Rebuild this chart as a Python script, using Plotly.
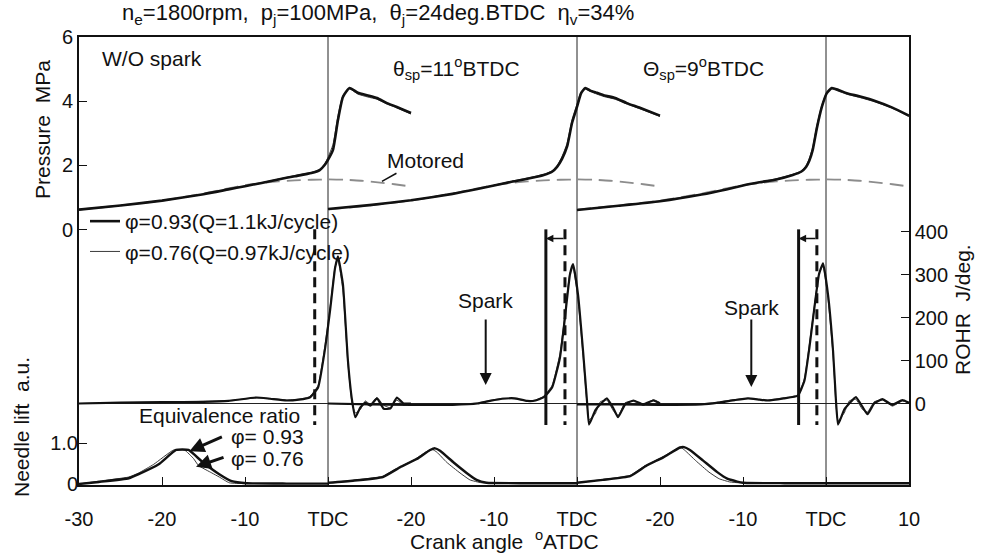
import plotly.graph_objects as go

# ---------------- axis layout (shared crank-angle axis, three panels side by side) -------------
PANEL_TDC = [30, 60, 90]          # where each panel's TDC sits on the shared axis
X_TICK_POS = [0, 10, 20, 30, 40, 50, 60, 70, 80, 90, 100]
X_TICK_TEXT = ['-30', '-20', '-10', 'TDC', '-20', '-10', 'TDC', '-20', '-10', 'TDC', '10']
P_TICKS = [0, 2, 4, 6]
R_TICKS = [0, 100, 200, 300, 400]
N_TICKS = [0, 1.0]
N_TICK_TEXT = ['0', '1.0']

# ---------------- cylinder pressure, MPa (crank angle deg ATDC) ----------------
ca_motored = [-30, -25, -20, -15, -12, -10, -8, -6, -4, -2, 0, 2, 4, 6, 8, 10]
p_motored = [0.62, 0.75, 0.90, 1.12, 1.28, 1.38, 1.45, 1.50, 1.53, 1.55, 1.56, 1.55, 1.52, 1.47, 1.41, 1.34]

ca_p1 = [-30, -25, -20, -15, -12, -10, -8, -6, -4, -2, -1, -0.4, 0, 0.6, 1.2, 1.8, 2.6, 3.6, 4.8, 5.9, 7.1, 8.3, 10]
p1_093 = [0.62, 0.75, 0.90, 1.10, 1.25, 1.35, 1.45, 1.56, 1.66, 1.76, 1.85, 2.01, 2.17, 2.48, 3.41, 4.13, 4.41, 4.26, 4.18, 4.10, 3.94, 3.82, 3.63]
p1_076 = [0.62, 0.75, 0.90, 1.10, 1.25, 1.36, 1.46, 1.57, 1.68, 1.78, 1.87, 2.05, 2.25, 2.65, 3.55, 4.18, 4.38, 4.22, 4.13, 4.06, 3.91, 3.79, 3.60]

ca_p2 = [-30, -25, -20, -15, -12, -10, -8, -6, -4, -3, -2.4, -1.8, -1.2, -0.6, 0, 0.5, 1.0, 1.6, 2.4, 3.3, 4.6, 6, 7.5, 10]
p2_093 = [0.64, 0.76, 0.91, 1.11, 1.26, 1.37, 1.48, 1.58, 1.70, 1.80, 1.95, 2.20, 2.58, 3.32, 3.82, 4.25, 4.41, 4.33, 4.26, 4.18, 4.10, 3.94, 3.80, 3.55]
p2_076 = [0.64, 0.76, 0.91, 1.12, 1.27, 1.38, 1.50, 1.60, 1.72, 1.83, 1.99, 2.28, 2.68, 3.42, 3.90, 4.30, 4.38, 4.30, 4.22, 4.14, 4.06, 3.91, 3.77, 3.52]

ca_p3 = [-30, -25, -20, -15, -12, -10, -8, -6, -4, -3, -2.4, -2, -1.6, -1.1, -0.5, 0.1, 0.7, 1.5, 2.5, 4, 6, 8, 10]
p3_093 = [0.61, 0.74, 0.88, 1.09, 1.25, 1.37, 1.47, 1.56, 1.70, 1.80, 1.95, 2.15, 2.48, 3.16, 3.82, 4.25, 4.41, 4.35, 4.25, 4.15, 4.00, 3.80, 3.55]
p3_076 = [0.61, 0.74, 0.89, 1.10, 1.26, 1.38, 1.48, 1.58, 1.72, 1.82, 1.99, 2.22, 2.57, 3.25, 3.88, 4.28, 4.38, 4.31, 4.22, 4.12, 3.97, 3.78, 3.52]

# ---------------- rate of heat release, J/deg ----------------
ca_r1 = [-30, -25, -20, -15, -12, -8.6, -7, -5, -3.5, -2.2, -1.2, -0.4, 0.24, 0.85, 1.2, 1.8, 2.4, 2.9, 3.3, 3.9, 4.5, 5.1, 5.9, 6.7, 7.5, 8.3, 9.1, 10]
r1_093 = [0, 2, 3, 4, 6, 14, 11, 7, 9, 14, 37, 122, 215, 315, 342, 277, 100, 7, -32, -9, 2, -5, 12, -12, -12, 14, 0, 0]
r1_076 = [0, 2, 3, 5, 7, 13, 12, 8, 10, 16, 42, 130, 222, 318, 334, 262, 92, 0, -22, -14, 6, -2, 14, -4, -10, 8, -4, 0]

ca_r2 = [-30, -25, -20, -15, -12, -10.5, -9, -7.5, -6, -5, -4, -3, -2.06, -1.45, -0.85, -0.48, 0.12, 0.73, 1.2, 1.45, 2.2, 2.8, 3.6, 4.35, 4.95, 5.8, 6.8, 8, 9.2, 10]
r2_093 = [0, -2, -3, -3, 0, 6, 11, 12, 6, 7, 15, 37, 106, 200, 300, 324, 254, 122, 7, -49, -16, -2, 12, -10, -32, -2, 7, -2, 7, 0]
r2_076 = [0, -2, -3, -3, 1, 7, 12, 11, 6, 8, 17, 42, 115, 208, 304, 318, 242, 112, 0, -38, -24, 4, 8, -16, -28, 2, 5, -4, 9, 2]

ca_r3 = [-30, -25, -20, -15, -13, -11, -9.4, -8, -7, -5.1, -3.4, -2.6, -2, -1.45, -0.85, -0.36, 0.24, 0.85, 1.2, 1.45, 2.2, 2.8, 3.6, 4.4, 5, 5.8, 6.8, 8, 9.2, 10]
r3_093 = [-2, -2, -3, -2, 2, 8, 12, 9, 7, 12, 18, 53, 130, 215, 300, 326, 254, 122, 7, -49, -14, 0, 15, -8, -25, 0, 10, -3, 8, 2]
r3_076 = [-2, -2, -3, -2, 3, 9, 12, 9, 8, 13, 20, 58, 138, 220, 302, 320, 244, 112, -2, -40, -22, 6, 10, -14, -20, 4, 8, -6, 6, 2]

# ---------------- needle lift, a.u. ----------------
ca_n1_093 = [-30, -27.6, -24, -22.8, -20.4, -18.3, -16.8, -15.2, -13.1, -11.6, -9.8, -5, 0]
n1_093 = [0.0, 0.05, 0.14, 0.24, 0.48, 0.83, 0.83, 0.55, 0.24, 0.07, 0.02, 0.01, 0.01]
ca_n1_076 = [-30, -27.6, -24, -22.8, -21, -18.6, -17.3, -16.2, -15.6, -14, -13.1, -11.9, -10, 0]
n1_076 = [0.0, 0.07, 0.17, 0.27, 0.48, 0.83, 0.83, 0.62, 0.45, 0.27, 0.17, 0.03, 0.01, 0.01]

ca_n2_093 = [-30, -27, -23.4, -21.3, -19.3, -17.7, -17.1, -16.5, -14.9, -13.3, -12.1, -10.9, -5, 0]
n2_093 = [0.03, 0.08, 0.17, 0.41, 0.61, 0.83, 0.87, 0.81, 0.53, 0.27, 0.10, 0.03, 0.02, 0.02]
ca_n2_076 = [-30, -27, -23.4, -21.5, -19.5, -17.8, -17.4, -16.9, -15.7, -14.1, -12.9, -11.5, -5, 0]
n2_076 = [0.03, 0.09, 0.19, 0.41, 0.61, 0.83, 0.84, 0.78, 0.53, 0.27, 0.10, 0.03, 0.02, 0.02]

ca_n3_093 = [-30, -26.9, -23.6, -21.6, -19.6, -17.6, -17.1, -16.4, -14.8, -13.1, -11.9, -10.7, -10, -5, 0, 10]
n3_093 = [0.03, 0.10, 0.19, 0.45, 0.65, 0.89, 0.90, 0.83, 0.57, 0.29, 0.13, 0.06, 0.03, 0.02, 0.02, 0.02]
ca_n3_076 = [-30, -26.9, -23.6, -21.8, -19.8, -17.8, -17.4, -17.0, -15.7, -14.1, -12.9, -11.6, -10.5, -5, 0, 10]
n3_076 = [0.03, 0.11, 0.21, 0.45, 0.65, 0.87, 0.88, 0.82, 0.57, 0.29, 0.13, 0.05, 0.03, 0.02, 0.02, 0.02]

# ---------------- timing markers ----------------
ign_wo_spark = [-1.6, -1.45, -1.1]     # dashed: ignition timing without spark (per panel)
ign_spark = [None, -3.75, -3.3]        # solid: ignition timing with spark
spark_timing = [None, -11, -9]         # spark arrows
ign_line_rohr = [405, -50]             # vertical extent of timing lines (ROHR units)

THICK, THIN = '#111111', '#3a3a3a'
FONT = 'Liberation Sans, Arial, sans-serif'

# plot-area geometry in pixels (used only to align axis ranges / text boxes)
L, R, T, B = 79, 909, 37, 485
H = B - T

def xp(px):
    return (px - L) / (R - L)

def yp(py):
    return (B - py) / H

def rng(v0, py0, v1, py1):
    k = (py0 - py1) / (v1 - v0)
    lo = v0 - (B - py0) / k
    hi = v0 + (py0 - T) / k
    return [lo, hi]

P_RANGE = rng(0, 229.5, 6, 37)
R_RANGE = rng(0, 403.5, 400, 231.5)
N_RANGE = rng(0, 484, 1, 443)

def sx(panel, ca):
    return [PANEL_TDC[panel] + c for c in ca]

fig = go.Figure()

# motored pressure (dashed gray)
for i in range(3):
    fig.add_trace(go.Scatter(x=sx(i, ca_motored), y=p_motored, mode='lines', yaxis='y',
                             line=dict(color='#8c8c8c', width=1.8, dash='14px,7px', shape='spline', smoothing=0.6),
                             showlegend=False, hoverinfo='skip'))

pres = [(ca_p1, p1_093, p1_076), (ca_p2, p2_093, p2_076), (ca_p3, p3_093, p3_076)]
rohr = [(ca_r1, r1_093, r1_076), (ca_r2, r2_093, r2_076), (ca_r3, r3_093, r3_076)]
need = [(ca_n1_093, n1_093, ca_n1_076, n1_076), (ca_n2_093, n2_093, ca_n2_076, n2_076),
        (ca_n3_093, n3_093, ca_n3_076, n3_076)]

# thin (phi=0.76) first, thick on top
for i in range(3):
    ca, _, pt = pres[i]
    fig.add_trace(go.Scatter(x=sx(i, ca), y=pt, mode='lines', yaxis='y',
                             line=dict(color=THIN, width=1, shape='spline', smoothing=0.5),
                             name='\u03c6=0.76(Q=0.97kJ/cycle)', legendgroup='b', legendrank=2,
                             showlegend=(i == 0), hoverinfo='skip'))
    ca, _, rt = rohr[i]
    fig.add_trace(go.Scatter(x=sx(i, ca), y=rt, mode='lines', yaxis='y2',
                             line=dict(color=THIN, width=1, shape='spline', smoothing=0.4),
                             legendgroup='b', showlegend=False, hoverinfo='skip'))
    _, _, cn, nt = need[i]
    fig.add_trace(go.Scatter(x=sx(i, cn), y=nt, mode='lines', yaxis='y3',
                             line=dict(color=THIN, width=1, shape='spline', smoothing=0.4),
                             legendgroup='b', showlegend=False, hoverinfo='skip'))

for i in range(3):
    ca, pk, _ = pres[i]
    fig.add_trace(go.Scatter(x=sx(i, ca), y=pk, mode='lines', yaxis='y',
                             line=dict(color=THICK, width=2.6, shape='spline', smoothing=0.5),
                             name='\u03c6=0.93(Q=1.1kJ/cycle)', legendgroup='a', legendrank=1,
                             showlegend=(i == 0), hoverinfo='skip'))
    ca, rk, _ = rohr[i]
    fig.add_trace(go.Scatter(x=sx(i, ca), y=rk, mode='lines', yaxis='y2',
                             line=dict(color=THICK, width=2.2, shape='spline', smoothing=0.4),
                             legendgroup='a', showlegend=False, hoverinfo='skip'))
    cn, nk, _, _ = need[i]
    fig.add_trace(go.Scatter(x=sx(i, cn), y=nk, mode='lines', yaxis='y3',
                             line=dict(color=THICK, width=2.4, shape='spline', smoothing=0.4),
                             legendgroup='a', showlegend=False, hoverinfo='skip'))

# ignition timing lines
for i in range(3):
    fig.add_trace(go.Scatter(x=sx(i, [ign_wo_spark[i]] * 2), y=ign_line_rohr, mode='lines', yaxis='y2',
                             line=dict(color=THICK, width=3, dash='10px,6px'),
                             showlegend=False, hoverinfo='skip'))
    if ign_spark[i] is not None:
        fig.add_trace(go.Scatter(x=sx(i, [ign_spark[i]] * 2), y=ign_line_rohr, mode='lines', yaxis='y2',
                                 line=dict(color=THICK, width=3),
                                 showlegend=False, hoverinfo='skip'))

shapes = []
# TDC separators
for t in PANEL_TDC:
    shapes.append(dict(type='line', xref='x', yref='paper', x0=t, x1=t, y0=0, y1=1,
                       line=dict(color='#222', width=1), layer='below'))
# ROHR zero line
shapes.append(dict(type='line', xref='paper', yref='y2', x0=0, x1=1, y0=0, y1=0,
                   line=dict(color='#222', width=1), layer='below'))

ann = []

def txt(text, px, py, size=21, angle=0, xa='center'):
    ann.append(dict(text=text, xref='paper', yref='paper', x=xp(px), y=yp(py), xanchor=xa, yanchor='middle',
                    textangle=angle, showarrow=False, font=dict(size=size)))

txt('n<sub>e</sub>=1800rpm,\u00a0\u00a0p<sub>j</sub>=100MPa,\u00a0\u00a0\u03b8<sub>j</sub>=24deg.BTDC\u00a0\u00a0\u03b7<sub>v</sub>=34%',
    378, 14, size=22)
txt('W/O spark', 100, 58, xa='left')
txt('\u03b8<sub>sp</sub>=11<sup>o</sup>BTDC', 456, 68)
txt('\u0398<sub>sp</sub>=9<sup>o</sup>BTDC', 703, 68)
txt('Motored', 425, 160)
ann.append(dict(text='', x=PANEL_TDC[0] + 6.5, y=1.50, xref='x', yref='y', ax=16, ay=-9, showarrow=True,
                arrowhead=0, arrowwidth=1.5, arrowcolor='#111'))
# Spark labels + arrows
for i, pyt, pyb in [(1, 300, 385), (2, 307, 387)]:
    xs = PANEL_TDC[i] + spark_timing[i]
    ann.append(dict(text='Spark', x=xs, y=(403.5 - pyt) / 0.43, xref='x', yref='y2', showarrow=False,
                    xanchor='center', yanchor='middle', font=dict(size=21)))
    ann.append(dict(text='', x=xs, y=(403.5 - pyb) / 0.43, xref='x', yref='y2', ax=0, ay=-(pyb - 318),
                    showarrow=True, arrowhead=2, arrowsize=1.2, arrowwidth=2, arrowcolor='#111'))
# ignition shift arrows
for i in [1, 2]:
    ann.append(dict(text='', x=PANEL_TDC[i] + ign_spark[i], y=384, xref='x', yref='y2',
                    ax=PANEL_TDC[i] + ign_wo_spark[i], ay=384, axref='x', ayref='y2',
                    showarrow=True, arrowhead=2, arrowsize=1, arrowwidth=1.5, arrowcolor='#111'))
# equivalence ratio labels
txt('Equivalence ratio', 302, 415, xa='right')
txt('\u03c6= 0.93', 229, 436, xa='left')
txt('\u03c6= 0.76', 229, 458, xa='left')
ann.append(dict(text='', x=PANEL_TDC[0] - 16.7, y=0.80, xref='x', yref='y3', ax=34, ay=-15,
                showarrow=True, arrowhead=2, arrowsize=1, arrowwidth=3, arrowcolor='#111'))
ann.append(dict(text='', x=PANEL_TDC[0] - 15.9, y=0.42, xref='x', yref='y3', ax=29, ay=-10,
                showarrow=True, arrowhead=2, arrowsize=1, arrowwidth=3, arrowcolor='#111'))
# axis titles
txt('Pressure\u00a0\u00a0MPa', 42, 130, angle=-90)
txt('Needle lift\u00a0\u00a0a.u.', 21, 427, angle=-90)
txt('ROHR\u00a0\u00a0J/deg.', 962, 310, angle=-90)
txt('Crank angle\u00a0\u00a0<sup>o</sup>ATDC', 505, 540)

axis_common = dict(showgrid=False, zeroline=False, ticks='inside', ticklen=8, tickwidth=1.2,
                   tickcolor='#111', tickfont=dict(size=20, color='#111'))

fig.update_layout(
    width=984, height=556,
    margin=dict(l=L, r=984 - R, t=T, b=556 - B),
    paper_bgcolor='white', plot_bgcolor='white',
    font=dict(family=FONT, size=20, color='#111'),
    xaxis=dict(range=[0, 100], tickvals=X_TICK_POS, ticktext=X_TICK_TEXT, showline=True, linewidth=2,
               linecolor='#111', mirror=True, ticklabelstandoff=15, **axis_common),
    yaxis=dict(range=P_RANGE, tickvals=P_TICKS, showline=True, linewidth=2, linecolor='#111', **axis_common),
    yaxis2=dict(range=R_RANGE, tickvals=R_TICKS, overlaying='y', side='right', anchor='x', showline=True,
                linewidth=1.5, linecolor='#111', **axis_common),
    yaxis3=dict(range=N_RANGE, tickvals=N_TICKS, ticktext=N_TICK_TEXT, overlaying='y', side='left', anchor='x',
                showline=False, **axis_common),
    legend=dict(x=xp(85), y=yp(201), xanchor='left', yanchor='top', bgcolor='rgba(0,0,0,0)',
                font=dict(size=21), traceorder='grouped', tracegroupgap=0, itemwidth=30),
    shapes=shapes, annotations=ann,
)

fig.write_html('out.html')
